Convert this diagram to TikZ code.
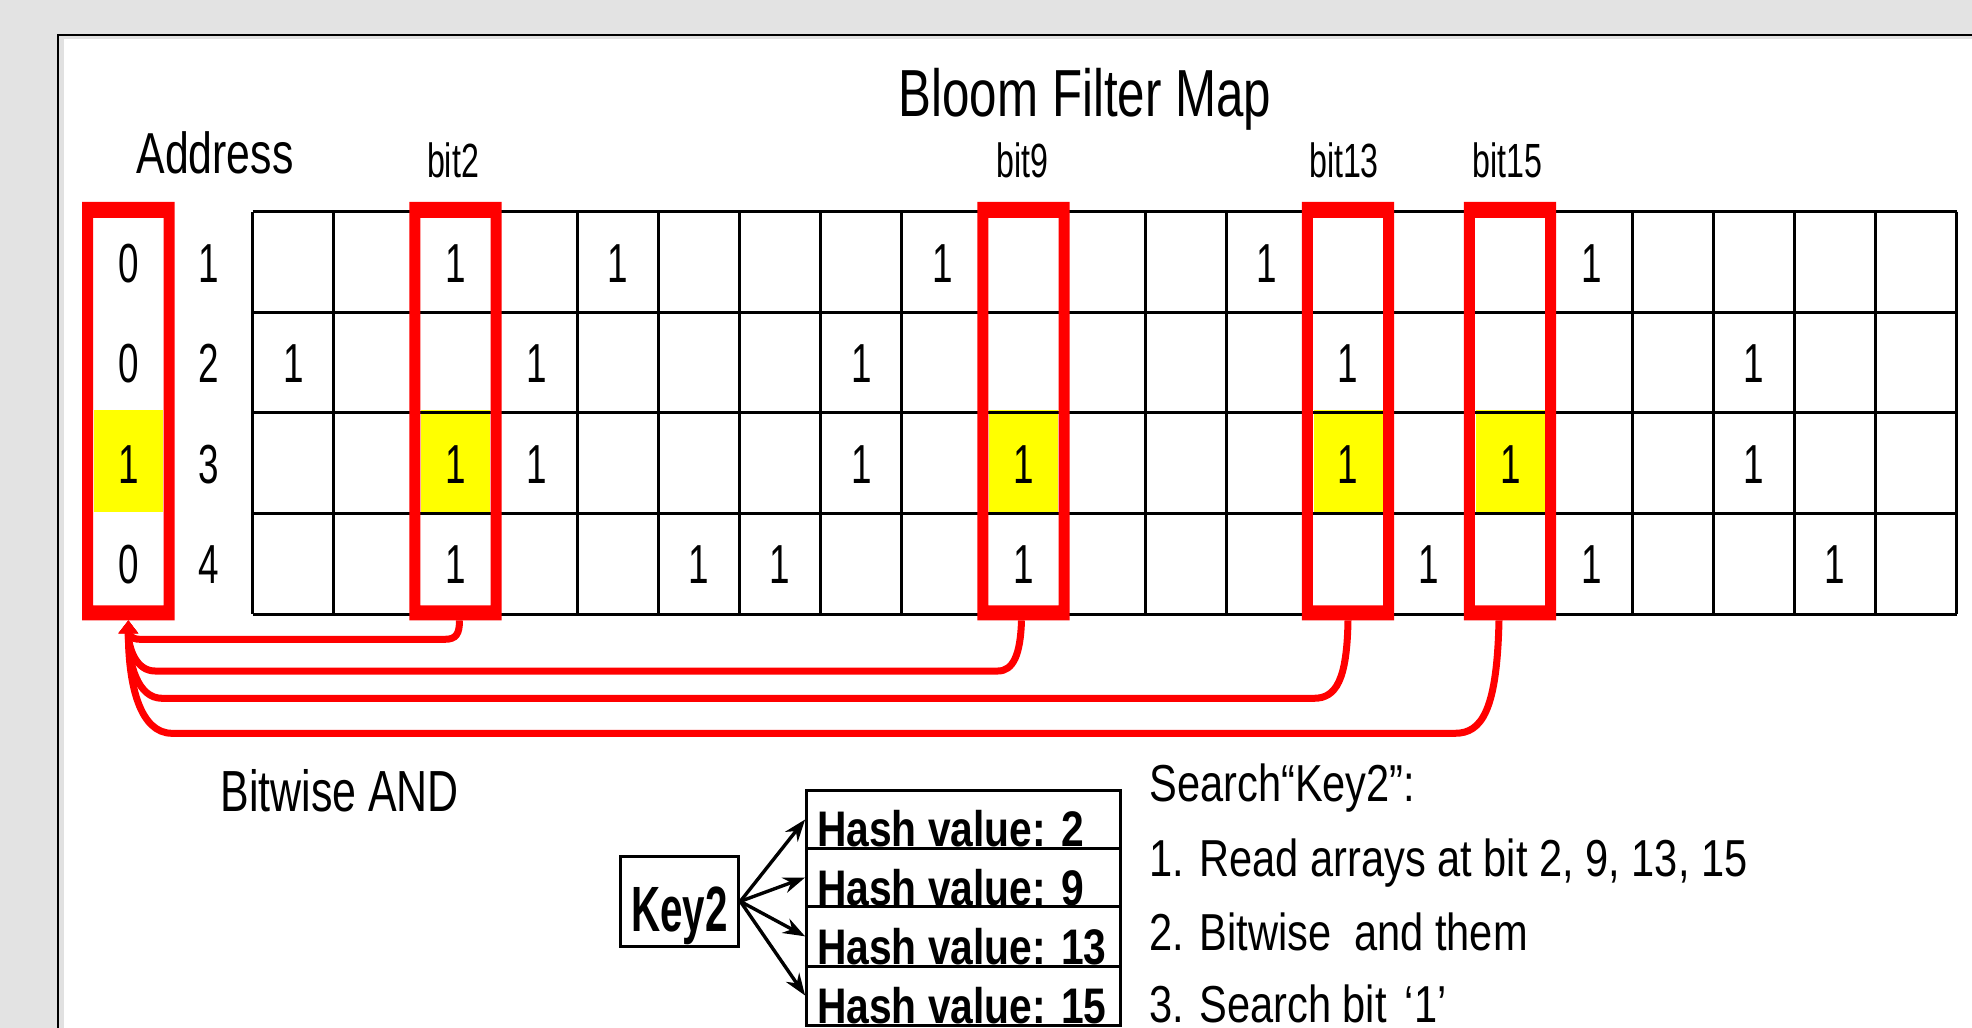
\documentclass[tikz,border=0pt]{standalone}
\usepackage{fontspec}
\setmainfont{Liberation Sans}
\newfontfamily\fa{Liberation Sans}[FakeStretch=0.74]
\newfontfamily\fd{Liberation Sans}[FakeStretch=0.67]
\newfontfamily\fs{Liberation Sans}[FakeStretch=0.80]
\newfontfamily\fh{Liberation Sans}[FakeStretch=0.815]
\newfontfamily\fk{Liberation Sans}[FakeStretch=0.63]
\usetikzlibrary{arrows.meta,fit}
\definecolor{bg}{RGB}{227,227,227}
\definecolor{strip}{RGB}{225,225,225}
\definecolor{hl}{RGB}{255,255,0}
\definecolor{rd}{RGB}{255,0,0}
\begin{document}
\begin{tikzpicture}[x=0.5pt,y=-0.5pt,
  lbl/.style={inner sep=0, anchor=base},
  digit/.style={lbl, font=\fd\fontsize{27.5}{30}\selectfont},
  bitlbl/.style={lbl, font=\fd\fontsize{24}{26}\selectfont},
  gridline/.style={line width=1.5pt, black},
  frame/.style={inner sep=0, draw=none},
  redline/.style={draw=rd, line width=3.5pt, -{Triangle[length=6.5pt,width=9.5pt]}},
  box/.style={draw, line width=1.5pt, inner sep=0},
  karrow/.style={line width=1.7pt, -{Stealth[length=11pt,width=8pt]}},
  srch/.style={inner sep=0, anchor=base west, font=\fs\fontsize{26}{28}\selectfont},
]
% background and panel
\fill[bg] (0,0) rectangle (1972,1028);
\useasboundingbox (0,0) rectangle (1972,1028);
\fill[white] (58,35) rectangle (1972,1028);
\fill[strip] (59,36) rectangle (64.3,1028);
\fill[strip] (59,36) rectangle (1972,38.7);
\draw[line width=1.3pt] (58,1028) -- (58,35) -- (1972,35);

% yellow highlights
\foreach \cx in {128.35,455.5,1023.5,1348,1510}
  \fill[hl] ({\cx-34.5},410) rectangle ({\cx+34.5},511.5);

% grid
\foreach \i in {0,...,21}
  \draw[gridline] ({252.7+\i*81.14},211.7) -- ({252.7+\i*81.14},614.1);
\foreach \j in {0,...,4}
  \draw[gridline] (252.7,{211.7+\j*100.6}) -- (1956.6,{211.7+\j*100.6});

% cell values
\foreach \c/\r in {2/0,4/0,8/0,12/0,16/0,
                   0/1,3/1,7/1,13/1,18/1,
                   2/2,3/2,7/2,9/2,13/2,15/2,18/2,
                   2/3,5/3,6/3,9/3,14/3,16/3,19/3}
  \node[digit] (v-\c-\r) at ({252.7+(\c+0.5)*81.14},{282+\r*100.6}) {1};

% address column
\foreach \v/\r in {0/0,0/1,1/2,0/3}
  \node[digit] (res-\r) at (128.35,{282+\r*100.6}) {\v};
\foreach \a/\r in {1/0,2/1,3/2,4/3}
  \node[digit] (adr-\r) at (208.5,{282+\r*100.6}) {\a};

% red frames
\foreach \n/\cx in {addr/128.35,b2/455.5,b9/1023.5,b13/1348,b15/1510} {
  \node[frame, fit={({\cx-45.75},202.3) ({\cx+45.75},620)}] (\n) {};
  \fill[rd, even odd rule] (\n.north west) rectangle (\n.south east)
    ([shift={(11,16)}]\n.north west) rectangle ([shift={(-11,-15)}]\n.south east);
}

% labels
\node[lbl, font=\fa\fontsize{33.3}{36}\selectfont] (title) at (1085,116) {Bloom Filter Map};
\node[lbl, font=\fa\fontsize{28.9}{32}\selectfont] (address) at (215,173) {Address};
\node[bitlbl] (l2) at (453,177.7) {bit2};
\node[bitlbl] (l9) at (1022.6,177.7) {bit9};
\node[bitlbl] (l13) at (1344,177.7) {bit13};
\node[bitlbl] (l15) at (1507.6,177.7) {bit15};
\node[lbl, anchor=base west, font=\fa\fontsize{29}{32}\selectfont] (bitand) at (220,811.7) {Bitwise AND};

% red connectors
\draw[redline] ([xshift=2pt]b2.south) .. controls (459.5,634) and (456,639.3) .. (445,639.3)
  -- (140,639.3) .. controls (131,639.3) and (128.35,634) .. (addr.south);
\draw[redline] ([xshift=-1pt]b9.south) .. controls (1020.5,655) and (1013,671) .. (998,671)
  -- (155,671) .. controls (136,671) and (128.35,648) .. (addr.south);
\draw[redline] (b13.south) .. controls (1347,680) and (1336,698.3) .. (1314,698.3)
  -- (162,698.3) .. controls (138,698.3) and (128.35,665) .. (addr.south);
\draw[redline] ([xshift=-5.5pt]b15.south) .. controls (1497,710) and (1482,733.3) .. (1455,733.3)
  -- (172,733.3) .. controls (140,733.3) and (128.35,685) .. (addr.south);

% key and hash boxes
\node[box, fit={(620.4,856) (738.8,946.7)}] (key) {};
\node[lbl, font=\fk\bfseries\fontsize{32}{34}\selectfont] (keyt) at (679.6,931.7) {Key2};
\foreach \i/\t/\b/\v in {1/790.7/848.3/2, 2/848.3/906.7/9, 3/906.7/966/13, 4/966/1025/15} {
  \node[box, fit={(806.6,\t) (1120.4,\b)}] (h\i) {};
  \node[lbl, anchor=base west, font=\fh\bfseries\fontsize{25}{28}\selectfont] (ht\i) at (816.8,{\b-1.5}) {Hash value: \v};
}
\foreach \i in {1,...,4}
  \draw[karrow] (key.east) -- (h\i.west);

% search steps
\node[srch] (s0) at (1149,801.7) {Search“Key2”:};
\node[srch] (s1) at (1149,876) {1. Read arrays at bit 2, 9, 13, 15};
\node[srch] (s2) at (1149,950) {2. Bitwise\ \ and them};
\node[srch] (s3) at (1149,1022) {3. Search bit\hspace{0.35em}‘1’};
\end{tikzpicture}
\end{document}
